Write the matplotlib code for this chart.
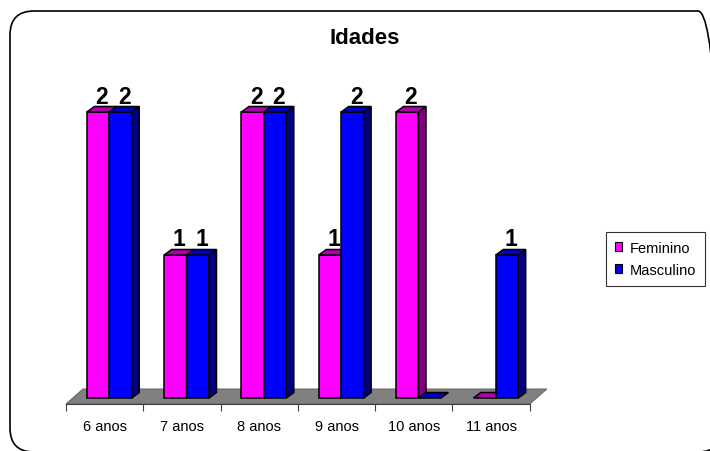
import matplotlib
matplotlib.use("Agg")
import matplotlib.pyplot as plt
from matplotlib.patches import Polygon, Patch, FancyBboxPatch

plt.rcParams['font.family'] = ['Liberation Sans', 'DejaVu Sans']

# dados
categorias = ['6 anos', '7 anos', '8 anos', '9 anos', '10 anos', '11 anos']
feminino = [2, 1, 2, 1, 2, 0]
masculino = [2, 1, 2, 2, 0, 1]
series = ['Feminino', 'Masculino']

# cores (frente, topo, lado)
cores = {
    'Feminino': ('#FF00FF', '#B000B0', '#800080'),
    'Masculino': ('#0000FF', '#0000C0', '#000080'),
}

W, H = 710, 452
fig = plt.figure(figsize=(W / 100, H / 100), dpi=100)

# moldura arredondada
frame = FancyBboxPatch((0.10, -0.01), 7.12, 4.41,
                       boxstyle="round,pad=0,rounding_size=0.24",
                       transform=fig.dpi_scale_trans, facecolor='none',
                       edgecolor='black', linewidth=1.2)
fig.patches.append(frame)

ax = fig.add_axes([0, 0, 1, 1])
ax.patch.set_alpha(0)
px_x, px_y = 77.3, 143.0      # pixels por categoria / por unidade
x_px0, y_px0 = 66, 399
ax.set_xlim(-0.5 - x_px0 / px_x, -0.5 + (W - x_px0) / px_x)
ax.set_ylim((y_px0 - H) / px_y, y_px0 / px_y)

# profundidade em unidades de dados
bdx, bdy = 7.5 / px_x, 5.5 / px_y      # barras
fdx = 17 / px_x                        # piso
y_front, y_back = -6 / px_y, 9 / px_y
n = len(categorias)

# piso
ax.add_patch(Polygon([(-0.5, y_front), (n - 0.5, y_front),
                      (n - 0.5 + fdx, y_back), (-0.5 + fdx, y_back)],
                     closed=True, facecolor='#808080', edgecolor='#606060',
                     linewidth=0.7, zorder=1))


def barra(x, w, h, cor, z):
    frente, topo, lado = cor
    ec, lw = 'black', 1.1
    if h > 0:
        ax.add_patch(Polygon([(x, 0), (x + w, 0), (x + w, h), (x, h)],
                             facecolor=frente, edgecolor=ec, lw=lw, zorder=z))
        ax.add_patch(Polygon([(x + w, 0), (x + w + bdx, bdy),
                              (x + w + bdx, h + bdy), (x + w, h)],
                             facecolor=lado, edgecolor=ec, lw=lw, zorder=z))
    ax.add_patch(Polygon([(x, h), (x + w, h), (x + w + bdx, h + bdy),
                          (x + bdx, h + bdy)],
                         facecolor=topo, edgecolor=ec, lw=lw, zorder=z))


larg = 0.29
desloc = -0.23
for i in range(n):
    base = 10 + i * 10
    for j, (nome, vals) in enumerate(zip(series, [feminino, masculino])):
        x = i + desloc + j * larg
        v = vals[i]
        barra(x, larg, v, cores[nome], base + 2 * j)
        if v > 0:
            ax.text(x + larg / 2 + bdx / 2, v + bdy - 1 / px_y, str(v),
                    ha='center', va='bottom', fontsize=16.5, fontweight='bold',
                    zorder=base + 2 * j + 1)

# eixo das categorias
for s in ['top', 'left', 'right']:
    ax.spines[s].set_visible(False)
ax.spines['bottom'].set_position(('data', y_front))
ax.spines['bottom'].set_bounds(-0.5, n - 0.5)
ax.spines['bottom'].set_color('#404040')
ax.spines['bottom'].set_linewidth(0.8)
ax.spines['bottom'].set_zorder(2)
ax.set_xticks([i - 0.5 for i in range(n + 1)])
ax.set_xticklabels([])
ax.set_xticks(range(n), minor=True)
ax.set_xticklabels(categorias, minor=True, fontsize=10.5)
ax.tick_params(axis='x', which='major', length=5, width=0.8,
               color='#404040', direction='out')
ax.tick_params(axis='x', which='minor', length=0, pad=10.5)
ax.set_yticks([])

fig.text(365 / W, 1 - 39 / H, 'Idades', ha='center', va='center',
         fontsize=16, fontweight='bold')

handles = [Patch(facecolor=cores[s][0], edgecolor='black', linewidth=0.8)
           for s in series]
leg = fig.legend(handles, series, loc='upper left',
                 bbox_to_anchor=(606 / W, 1 - 233 / H), borderaxespad=0,
                 fontsize=10.5, frameon=True, fancybox=False,
                 handlelength=0.5, handleheight=0.5, handletextpad=0.55,
                 borderpad=0.6, labelspacing=0.55)
leg.get_frame().set_edgecolor('black')
leg.get_frame().set_linewidth(0.8)

fig.savefig('out.png', dpi=100)
